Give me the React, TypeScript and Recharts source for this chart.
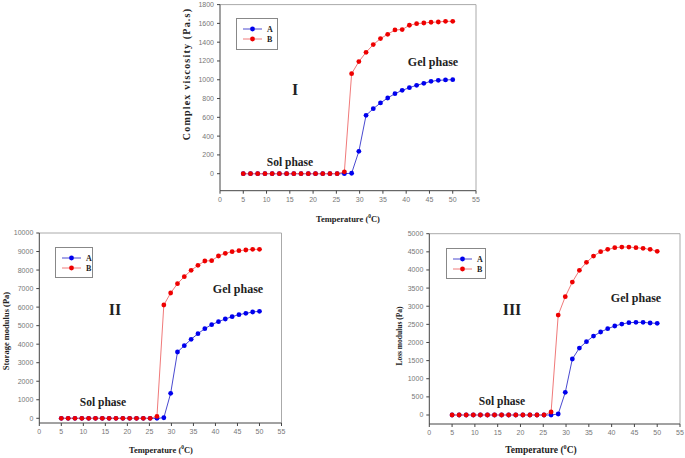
import React from "react";
import {LineChart, Line, XAxis, YAxis, ReferenceLine} from "recharts";

// temperatures (°C) shared by all three panels
const temps = [
    5, 6.55, 8.1, 9.66, 11.21, 12.76, 14.31, 15.86, 17.41, 18.97, 20.52, 22.07, 23.62, 25.17, 26.72,
    28.28, 29.83, 31.38, 32.93, 34.48, 36.03, 37.59, 39.14, 40.69, 42.24, 43.79, 45.34, 46.9, 48.45, 50,
];

// I: complex viscosity (Pa.s)
const viscA = [
    0, 0, 0, 0, 0, 0, 0, 0, 0, 0, 0, 0, 0, 0, 0,
    5, 238, 621, 692, 753, 806, 852, 887, 916, 941, 962, 983, 994, 998, 1001,
];
const viscB = [
    0, 0, 0, 0, 0, 0, 0, 0, 0, 0, 0, 0, 0, 0, 20,
    1065, 1193, 1292, 1374, 1438, 1484, 1530, 1534, 1580, 1597, 1604, 1612, 1615, 1622, 1622,
];

// II: storage modulus (Pa)
const storA = [
    0, 0, 0, 0, 0, 0, 0, 0, 0, 0, 0, 0, 0, 0, 0,
    30, 1349, 3579, 3921, 4263, 4568, 4838, 5054, 5216, 5360, 5486, 5594, 5665, 5737, 5773,
];
const storB = [
    0, 0, 0, 0, 0, 0, 0, 0, 0, 0, 0, 0, 0, 0, 100,
    6115, 6763, 7266, 7644, 7986, 8255, 8489, 8507, 8759, 8903, 8993, 9047, 9083, 9119, 9119,
];

// III: loss modulus (Pa)
const lossA = [
    0, 0, 0, 0, 0, 0, 0, 0, 0, 0, 0, 0, 0, 0, 0,
    28, 625, 1544, 1847, 2022, 2178, 2289, 2381, 2454, 2509, 2546, 2555, 2555, 2537, 2528,
];
const lossB = [
    0, 0, 0, 0, 0, 0, 0, 0, 0, 0, 0, 0, 0, 0, 83,
    2757, 3263, 3667, 3989, 4210, 4384, 4504, 4568, 4614, 4632, 4632, 4614, 4596, 4568, 4513,
];

const xTicks = [0, 5, 10, 15, 20, 25, 30, 35, 40, 45, 50, 55];
const viscTicks = [0, 200, 400, 600, 800, 1000, 1200, 1400, 1600, 1800];
const storTicks = [0, 1000, 2000, 3000, 4000, 5000, 6000, 7000, 8000, 9000, 10000];
const lossTicks = [0, 500, 1000, 1500, 2000, 2500, 3000, 3500, 4000, 4500, 5000];

const SERIF = "'Liberation Serif', 'Times New Roman', serif";
const SANS = "'Liberation Sans', Arial, sans-serif";

const tickStyle = {fontSize: 7, fill: "#777", fontFamily: SANS};

function rows(a: number[], b: number[]) {
    return temps.map((t, i) => ({t, a: a[i], b: b[i]}));
}

type PanelProps = {
    left: number;
    top: number;
    width: number;
    height: number;
    margin: {top: number; right: number; bottom: number; left: number};
    yWidth: number;
    a: number[];
    b: number[];
    yDomain: [number, number];
    yTicks: number[];
};

function Panel(p: PanelProps) {
    const yMax = p.yTicks[p.yTicks.length - 1];
    return (
        <div style={{position: "absolute", left: p.left, top: p.top}}>
            <LineChart width={p.width} height={p.height} data={rows(p.a, p.b)} margin={p.margin}>
                <XAxis
                    type="number"
                    dataKey="t"
                    domain={[0, 55]}
                    ticks={xTicks}
                    height={25}
                    tick={tickStyle}
                    tickSize={3}
                    tickMargin={3}
                    stroke="#444"
                    interval={0}
                />
                <YAxis
                    type="number"
                    domain={p.yDomain}
                    ticks={p.yTicks}
                    width={p.yWidth}
                    tick={tickStyle}
                    tickSize={3}
                    tickMargin={3}
                    stroke="#444"
                    interval={0}
                    allowDataOverflow
                />
                <ReferenceLine y={yMax} stroke="#aaa" />
                <ReferenceLine x={55} stroke="#aaa" />
                <Line
                    dataKey="a"
                    stroke="#4a4ad0"
                    strokeWidth={1}
                    dot={{r: 2.4, fill: "#0000ee", stroke: "none"}}
                    activeDot={false}
                    isAnimationActive={false}
                />
                <Line
                    dataKey="b"
                    stroke="#f07a7a"
                    strokeWidth={1}
                    dot={{r: 2.4, fill: "#ee0000", stroke: "none"}}
                    activeDot={false}
                    isAnimationActive={false}
                />
            </LineChart>
        </div>
    );
}

function Txt({x, y, size, children, rotate}: {x: number; y: number; size: number; children: React.ReactNode; rotate?: boolean}) {
    return (
        <div
            style={{
                position: "absolute",
                left: x,
                top: y,
                transform: `translate(-50%, -50%)${rotate ? " rotate(-90deg)" : ""}`,
                fontFamily: SERIF,
                fontWeight: "bold",
                fontSize: size,
                color: "#222",
                whiteSpace: "nowrap",
                lineHeight: 1,
            }}
        >
            {children}
        </div>
    );
}

function TempTitle({x, y, size}: {x: number; y: number; size: number}) {
    return (
        <Txt x={x} y={y} size={size}>
            Temperature (<sup style={{fontSize: size * 0.65, verticalAlign: "super"}}>0</sup>C)
        </Txt>
    );
}

function LegendBox({x, y, w, h}: {x: number; y: number; w: number; h: number}) {
    const item = (color: string, line: string, label: string) => (
        <div style={{display: "flex", alignItems: "center", height: 10}}>
            <svg width={21} height={8}>
                <line x1={1} y1={4} x2={20} y2={4} stroke={line} strokeWidth={1} />
                <circle cx={10.5} cy={4} r={2.4} fill={color} />
            </svg>
            <span style={{fontFamily: SERIF, fontWeight: "bold", fontSize: 8, marginLeft: 4, color: "#222"}}>{label}</span>
        </div>
    );
    return (
        <div
            style={{
                position: "absolute",
                left: x,
                top: y,
                width: w,
                height: h,
                boxSizing: "border-box",
                border: "1px solid #888",
                background: "#fff",
                padding: "5px 0 0 5px",
            }}
        >
            {item("#0000ee", "#4a4ad0", "A")}
            {item("#ee0000", "#f07a7a", "B")}
        </div>
    );
}

export default function App() {
    return (
        <div style={{position: "absolute", left: 0, top: 0, width: 685, height: 458, background: "#fff", overflow: "hidden"}}>
            {/* I */}
            <Panel
                left={170}
                top={0}
                width={320}
                height={230}
                margin={{top: 4.6, right: 14, bottom: 14.3, left: 0}}
                yWidth={50}
                a={viscA}
                b={viscB}
                yDomain={[-181, 1800]}
                yTicks={viscTicks}
            />
            {/* II */}
            <Panel
                left={0}
                top={225}
                width={300}
                height={233}
                margin={{top: 8, right: 18.5, bottom: 10, left: 0}}
                yWidth={39.3}
                a={storA}
                b={storB}
                yDomain={[-254, 10000]}
                yTicks={storTicks}
            />
            {/* III */}
            <Panel
                left={360}
                top={225}
                width={325}
                height={233}
                margin={{top: 8.7, right: 5, bottom: 9, left: 0}}
                yWidth={69.3}
                a={lossA}
                b={lossB}
                yDomain={[-248, 5000]}
                yTicks={lossTicks}
            />

            <LegendBox x={236} y={18} w={42} h={32} />
            <LegendBox x={55} y={247} w={38} h={31} />
            <LegendBox x={446} y={248} w={40} h={31} />

            <Txt x={295} y={90} size={16}>I</Txt>
            <Txt x={433} y={62} size={12}>Gel phase</Txt>
            <Txt x={290} y={163} size={11.5}>Sol phase</Txt>
            <TempTitle x={348} y={219} size={8.5} />
            <Txt x={187} y={74} size={10} rotate>
                <span style={{letterSpacing: 1.2}}>Complex viscosity (Pa.s)</span>
            </Txt>

            <Txt x={115} y={310} size={16}>II</Txt>
            <Txt x={238} y={289} size={12}>Gel phase</Txt>
            <Txt x={103} y={403} size={11.5}>Sol phase</Txt>
            <TempTitle x={161} y={450} size={8.5} />
            <Txt x={5.5} y={331} size={8.5} rotate>Storage modulus (Pa)</Txt>

            <Txt x={512} y={310} size={16}>III</Txt>
            <Txt x={636} y={298} size={12}>Gel phase</Txt>
            <Txt x={502} y={402} size={11.5}>Sol phase</Txt>
            <TempTitle x={541} y={450} size={9.5} />
            <Txt x={400} y={336} size={7.5} rotate>Loss modulus (Pa)</Txt>
        </div>
    );
}
